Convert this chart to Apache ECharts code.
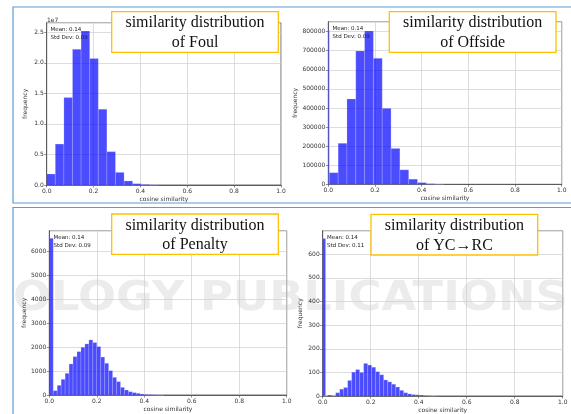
<!DOCTYPE html>
<html>
<head>
<meta charset="utf-8">
<script src="https://cdn.jsdelivr.net/npm/echarts@6/dist/echarts.min.js"></script>
<style>
  html, body { margin: 0; padding: 0; background: #fff; }
  #chart { width: 571px; height: 414px; }
</style>
</head>
<body>
<div id="chart"></div>
<script>
// histogram counts, one value per bin
var xTicks = [0, 0.2, 0.4, 0.6, 0.8, 1.0];

var foulCounts = [0.18e7, 0.67e7, 1.43e7, 2.22e7, 2.52e7, 2.07e7, 1.24e7, 0.546e7, 0.207e7, 0.066e7, 0.022e7, 0.009e7, 0.003e7];
var foulBin = { start: 0, width: 0.0367 };

var offsideCounts = [61000, 215000, 447000, 699000, 803000, 660000, 398000, 188000, 76000, 27000, 9000, 3000, 1000];
var offsideBin = { start: 0.0043, width: 0.0378 };
var offsideZero = [0, 0.0043, 808000];

var penaltyCounts = [6560, 182, 406, 657, 909, 1300, 1608, 1818, 2000, 2140, 2308, 2196, 2028, 1590, 1330, 1020, 740, 560, 320, 210, 140, 100, 70, 40, 25, 15, 10, 5, 3];
var penaltyBin = { start: 0, width: 1 / 60 };

var ycCounts = [0, 4, 1, 14, 29, 36, 66, 101, 112, 100, 138, 131, 122, 103, 90, 68, 60, 50, 38, 24, 14, 9, 6, 5, 4, 2, 1, 0, 1];
var ycBin = { start: 0.004, width: 1 / 60 };
var ycZero = [0, 0.012, 667];

var panels = [
  { title: 'of Foul', stats: ['Mean: 0.14', 'Std Dev: 0.09'] },
  { title: 'of Offside', stats: ['Mean: 0.14', 'Std Dev: 0.09'] },
  { title: 'of Penalty', stats: ['Mean: 0.14', 'Std Dev: 0.09'] },
  { title: 'of YC\u2192RC', stats: ['Mean: 0.14', 'Std Dev: 0.11'] }
];

function bins(b, counts) {
  return counts.map(function (c, i) {
    return [b.start + i * b.width, b.start + (i + 1) * b.width, c];
  });
}

var chart = echarts.init(document.getElementById('chart'));

var FONT = 'DejaVu Sans';
var grids = [
  { left: 46.7, top: 22.7, width: 234.3, height: 162.3 },
  { left: 328.3, top: 21.7, width: 233.4, height: 162.6 },
  { left: 49.3, top: 230.7, width: 237.4, height: 164.3 },
  { left: 322.7, top: 230.7, width: 240, height: 166.6 }
];
var yMax = [2.656e7, 852000, 6880, 700];
var yStep = [5e6, 100000, 1000, 100];
var nameGaps = [18, 29, 21, 19.5];
var yFmt = [
  function (v) { return (v / 1e7).toFixed(1); },
  function (v) { return String(v); },
  function (v) { return String(v); },
  function (v) { return String(v); }
];

var hists = [
  bins(foulBin, foulCounts),
  [offsideZero].concat(bins(offsideBin, offsideCounts)),
  bins(penaltyBin, penaltyCounts),
  [ycZero].concat(bins(ycBin, ycCounts))
];

function renderBar(params, api) {
  var p0 = api.coord([api.value(0), api.value(2)]);
  var p1 = api.coord([api.value(1), 0]);
  return {
    type: 'rect',
    shape: { x: p0[0], y: p0[1], width: p1[0] - p0[0], height: p1[1] - p0[1] },
    style: { fill: 'rgba(0,0,255,0.7)', stroke: 'rgba(255,255,255,0.45)', lineWidth: 0.4 }
  };
}

var xAxes = [], yAxes = [], series = [];
grids.forEach(function (g, i) {
  g.show = true;
  g.borderColor = '#444';
  g.borderWidth = 0.8;
  g.containLabel = false;
  xAxes.push({
    type: 'value', gridIndex: i, min: xTicks[0], max: xTicks[xTicks.length - 1], interval: 0.2,
    name: 'cosine similarity', nameLocation: 'middle', nameGap: 11,
    nameTextStyle: { fontFamily: FONT, fontSize: 6, color: '#333' },
    axisLine: { show: true, lineStyle: { color: '#444', width: 0.8 } },
    axisTick: { show: true, length: 2.5, lineStyle: { color: '#444', width: 0.6 } },
    axisLabel: { fontFamily: FONT, fontSize: 6, color: '#333', margin: 3,
      formatter: function (v) { return v.toFixed(1); } },
    splitLine: { show: true, lineStyle: { color: '#cfcfcf', width: 0.7 } }
  });
  yAxes.push({
    type: 'value', gridIndex: i, min: 0, max: yMax[i], interval: yStep[i],
    name: 'frequency', nameLocation: 'middle', nameRotate: 90, nameGap: nameGaps[i],
    nameTextStyle: { fontFamily: FONT, fontSize: 6, color: '#333' },
    axisLine: { show: true, lineStyle: { color: '#444', width: 0.8 } },
    axisTick: { show: true, length: 2.5, lineStyle: { color: '#444', width: 0.6 } },
    axisLabel: { fontFamily: FONT, fontSize: 6, color: '#333', margin: 3, showMaxLabel: false,
      formatter: yFmt[i] },
    splitLine: { show: true, lineStyle: { color: '#cfcfcf', width: 0.7 } }
  });
  series.push({
    type: 'custom', xAxisIndex: i, yAxisIndex: i, z: 3,
    renderItem: renderBar,
    encode: { x: [0, 1], y: 2 },
    data: hists[i]
  });
});

// title boxes and stats text
var boxes = [
  { x: 111.7, y: 11.7, w: 166.6, h: 40.6 },
  { x: 389.3, y: 11.7, w: 166.7, h: 40.6 },
  { x: 111.7, y: 214, w: 166.6, h: 40.3 },
  { x: 371, y: 214.3, w: 166.7, h: 40.7 }
];
var statsPos = [[50.5, 25.5], [332.5, 25], [53.5, 234], [327, 233.5]];

var graphics = [
  // faint publisher watermark band
  { type: 'text', z: 0, x: 13, y: 280, scaleX: 1.12, originX: 0, silent: true,
    style: { text: 'OLOGY PUBLICATIONS', font: 'bold 40px "DejaVu Sans"', fill: 'rgba(160,160,160,0.2)' } },
  // page frames
  { type: 'rect', z: 1, shape: { x: 13, y: 7, width: 570, height: 196 },
    style: { fill: 'none', stroke: '#5b9bd5', lineWidth: 1.2 } },
  { type: 'rect', z: 1, shape: { x: 13, y: 207.5, width: 570, height: 220 },
    style: { fill: 'none', stroke: '#5b9bd5', lineWidth: 1.2 } },
  { type: 'text', z: 10, left: 47, top: 17,
    style: { text: '1e7', font: '6px "DejaVu Sans"', fill: '#333' } }
];
boxes.forEach(function (b, i) {
  graphics.push({ type: 'rect', z: 20, shape: { x: b.x, y: b.y, width: b.w, height: b.h },
    style: { fill: '#fff', stroke: '#ffc000', lineWidth: 1.3 } });
  graphics.push({ type: 'text', z: 21, x: b.x + b.w / 2, y: b.y + b.h / 2 + 1,
    style: { text: 'similarity distribution\n' + panels[i].title, align: 'center', verticalAlign: 'middle',
      font: '16px "Liberation Serif"', lineHeight: 19.5, fill: '#111' } });
  graphics.push({ type: 'text', z: 10, x: statsPos[i][0], y: statsPos[i][1],
    style: { text: panels[i].stats.join('\n'), font: '5.5px "DejaVu Sans"', lineHeight: 8, fill: '#222' } });
});

chart.setOption({
  animation: false,
  backgroundColor: '#fff',
  grid: grids,
  xAxis: xAxes,
  yAxis: yAxes,
  series: series,
  graphic: graphics
});
</script>
</body>
</html>
